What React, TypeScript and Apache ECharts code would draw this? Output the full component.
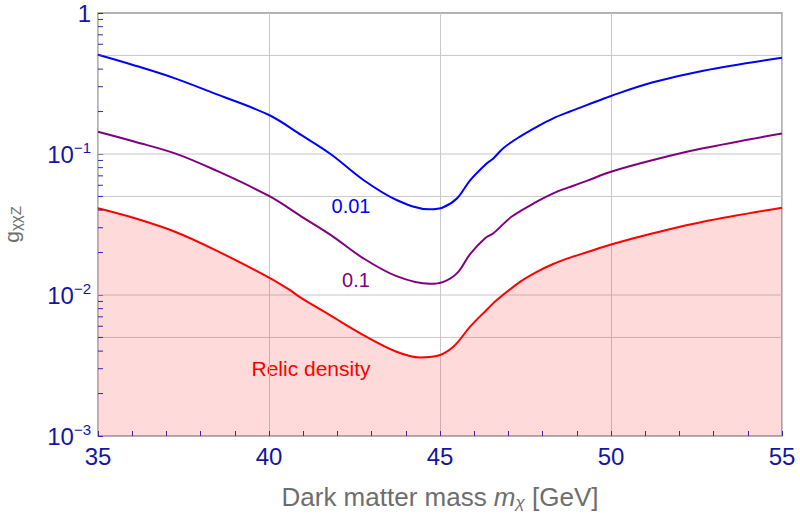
import React, { useEffect, useRef } from "react";
import * as echarts from "echarts";

// x values (GeV) and coupling limits
const blueX = [35, 36, 37.25, 38.4, 40, 40.95, 41.8, 42.76, 43.73, 44.7, 45.1, 45.5, 45.88, 46.37, 46.56, 46.85, 47.34, 47.83, 48.31, 48.8, 49.29, 50, 51.2, 52.7, 55];
const blueY = [0.506, 0.43, 0.344, 0.269, 0.189, 0.136, 0.1, 0.0654, 0.0472, 0.0405, 0.0419, 0.0485, 0.065, 0.0859, 0.093, 0.11, 0.133, 0.156, 0.179, 0.2, 0.222, 0.258, 0.321, 0.39, 0.482];

const purpleX = [35, 36.08, 37.25, 38.42, 40, 40.95, 41.8, 42.76, 43.73, 44.7, 45.1, 45.5, 45.88, 46.31, 46.56, 47.1, 47.83, 48.31, 48.8, 49.29, 50, 51.23, 52.69, 55];
const purpleY = [0.144, 0.122, 0.101, 0.077, 0.0504, 0.036, 0.0267, 0.0182, 0.0136, 0.012, 0.0124, 0.0143, 0.0195, 0.0252, 0.0274, 0.036, 0.0459, 0.0526, 0.0584, 0.0645, 0.0748, 0.0906, 0.1097, 0.14];

const redX = [35, 36.08, 37.25, 38.42, 40, 40.57, 40.95, 41.78, 42.76, 43.73, 44.42, 44.9, 45.39, 45.88, 46.36, 46.66, 47.34, 47.83, 48.31, 48.8, 49.29, 50, 51.23, 52.69, 55];
const redY = [0.0412, 0.035, 0.0281, 0.0209, 0.0133, 0.011, 0.0095, 0.0072, 0.0052, 0.00396, 0.00361, 0.00369, 0.0043, 0.00596, 0.00783, 0.0092, 0.0124, 0.0146, 0.0166, 0.0184, 0.0201, 0.0228, 0.0274, 0.0331, 0.0416];

const yMinorTicks = [
  0.002, 0.003, 0.004, 0.005, 0.006, 0.007, 0.008, 0.009,
  0.02, 0.03, 0.04, 0.05, 0.06, 0.07, 0.08, 0.09,
  0.2, 0.3, 0.4, 0.5, 0.6, 0.7, 0.8, 0.9,
];
const yGridValues = [0.5, 0.1, 0.05, 0.01, 0.005];

const labelBlue = "#1515a5";
const tickBlue = "#2a2ab5";
const FONT = "'Liberation Sans', Arial, sans-serif";

function zip(xs: number[], ys: number[]) {
  return xs.map((x, i) => [x, ys[i]]);
}

export default function App() {
  const ref = useRef<HTMLDivElement>(null);
  useEffect(() => {
    document.body.style.margin = "0";
    if (!ref.current) return;
    const chart = echarts.init(ref.current, null, { renderer: "svg" });
    const xMin = 35;
    const xMax = 55;
    chart.setOption({
      animation: false,
      textStyle: { fontFamily: FONT },
      grid: {
        left: 98,
        right: 18,
        top: 13,
        bottom: 81,
        show: true,
        borderColor: "#999999",
        borderWidth: 1.5,
        containLabel: false,
        outerBoundsMode: "none",
      },
      xAxis: {
        type: "value",
        min: xMin,
        max: xMax,
        interval: 5,
        axisLine: { show: false },
        axisTick: { show: true, inside: true, length: 5, lineStyle: { color: tickBlue, width: 1 } },
        minorTick: { show: true, splitNumber: 5, length: 5, lineStyle: { color: tickBlue, width: 1 } },
        splitLine: { show: true, lineStyle: { color: "#c8c8c8", width: 1 } },
        axisLabel: { color: labelBlue, fontSize: 24, margin: 8, fontFamily: FONT },
        name: "{n|Dark matter mass }{i|m}{sub|χ}{n| [GeV]}",
        nameLocation: "middle",
        nameGap: 47,
        nameTextStyle: {
          rich: {
            n: { fontSize: 26, color: "#6e6e6e", fontFamily: FONT },
            i: { fontSize: 26, color: "#6e6e6e", fontStyle: "italic", fontFamily: FONT },
            sub: { fontSize: 17, color: "#6e6e6e", fontStyle: "italic", fontFamily: FONT, padding: [11, 0, 0, 0] },
          },
        },
      },
      yAxis: {
        type: "log",
        logBase: 10,
        min: 0.001,
        max: 1,
        axisLine: { show: false },
        axisTick: { show: true, inside: true, length: 5, lineStyle: { color: tickBlue, width: 1 } },
        splitLine: { show: false },
        axisLabel: {
          margin: 7,
          formatter: (v: number) => {
            if (v >= 0.999) return "{b|1}";
            const e = Math.round(Math.log10(v));
            return "{b|10}{s|−" + -e + "}";
          },
          rich: {
            b: { fontSize: 24, color: labelBlue, fontFamily: FONT },
            s: { fontSize: 15, color: labelBlue, fontFamily: FONT, padding: [0, 0, 13, 0] },
          },
        },
        name: "{i|g}{sub|χχZ}",
        nameLocation: "middle",
        nameGap: 75,
        nameTextStyle: {
          rich: {
            i: { fontSize: 21, color: "#6e6e6e", fontFamily: FONT },
            sub: { fontSize: 15, color: "#6e6e6e", fontFamily: FONT, padding: [8, 0, 0, 0] },
          },
        },
      },
      series: [
        {
          type: "custom",
          z: 1,
          silent: true,
          data: yGridValues.map((v) => [xMin, v]),
          renderItem: (params: any, api: any) => {
            const v = api.value(1);
            const a = api.coord([xMin, v]);
            const b = api.coord([xMax, v]);
            return {
              type: "line",
              shape: { x1: a[0], y1: a[1], x2: b[0], y2: b[1] },
              style: { stroke: "#c8c8c8", lineWidth: 1 },
            };
          },
        },
        {
          type: "custom",
          z: 5,
          silent: true,
          data: yMinorTicks.map((v) => [xMin, v]),
          renderItem: (params: any, api: any) => {
            const v = api.value(1);
            const a = api.coord([xMin, v]);
            return {
              type: "line",
              shape: { x1: a[0], y1: a[1], x2: a[0] + 5, y2: a[1] },
              style: { stroke: tickBlue, lineWidth: 1 },
            };
          },
        },
        {
          type: "line",
          name: "Relic density",
          data: zip(redX, redY),
          smooth: 0.35,
          showSymbol: false,
          lineStyle: { color: "#ff0000", width: 2 },
          areaStyle: { color: "rgba(255,0,0,0.21)", origin: "start" },
          z: 3,
        },
        {
          type: "line",
          name: "0.1",
          data: zip(purpleX, purpleY),
          smooth: 0.35,
          showSymbol: false,
          lineStyle: { color: "#800080", width: 2 },
          z: 3,
        },
        {
          type: "line",
          name: "0.01",
          data: zip(blueX, blueY),
          smooth: 0.35,
          showSymbol: false,
          lineStyle: { color: "#0000ff", width: 2 },
          z: 3,
        },
      ],
      graphic: [
        { type: "text", x: 351, y: 206, style: { text: "0.01", fill: "#0000ff", fontSize: 20, fontFamily: FONT, textAlign: "center", textVerticalAlign: "middle" } },
        { type: "text", x: 356, y: 280, style: { text: "0.1", fill: "#800080", fontSize: 20, fontFamily: FONT, textAlign: "center", textVerticalAlign: "middle" } },
        { type: "text", x: 311, y: 368, style: { text: "Relic density", fill: "#ff0000", fontSize: 21, fontFamily: FONT, textAlign: "center", textVerticalAlign: "middle" } },
      ],
    });
    return () => chart.dispose();
  }, []);
  return <div ref={ref} style={{ width: 800, height: 517 }} />;
}
